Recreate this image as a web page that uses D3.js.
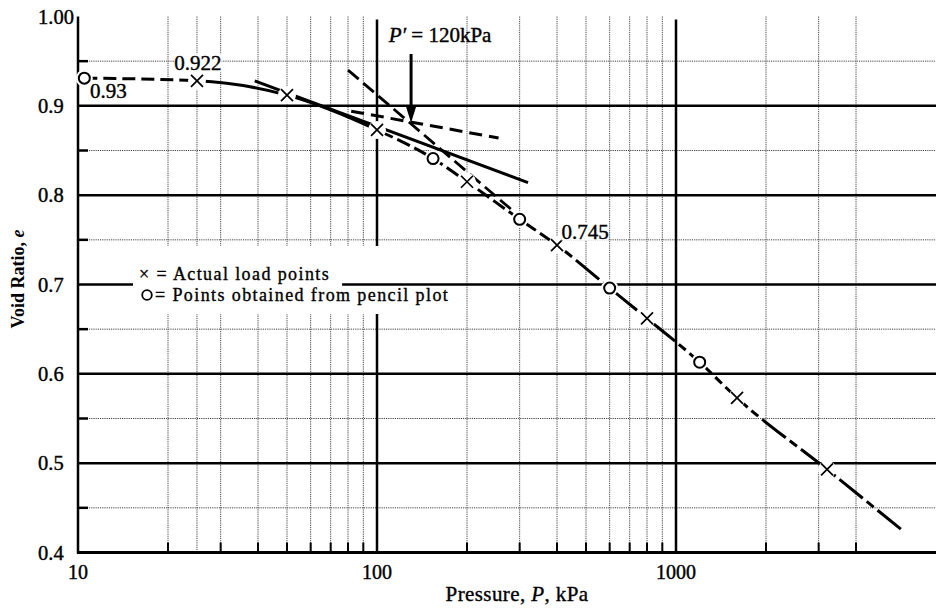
<!DOCTYPE html>
<html><head><meta charset="utf-8">
<script src="https://cdn.jsdelivr.net/npm/d3@7"></script>
<style>
html,body{margin:0;padding:0;background:#fff;}
text{font-family:"Liberation Serif","Times New Roman",serif;fill:#000;}
</style></head>
<body><svg id="c" width="936" height="615"></svg>
<script>
// ---- data ----
const crossP = [25, 50, 100, 200, 400, 800, 1600, 3200];
const crossE = [0.928, 0.912, 0.873, 0.815, 0.744, 0.662, 0.573, 0.493];
const circleP = [10.5, 154, 300, 600, 1200];
const circleE = [0.931, 0.841, 0.773, 0.696, 0.613];
const curveP = [10.5, 25, 50, 100, 154, 200, 300, 400, 600, 800, 1200, 1600, 3200, 5800];
const curveE = [0.931, 0.928, 0.912, 0.873, 0.841, 0.815, 0.773, 0.744, 0.696, 0.662, 0.613, 0.573, 0.493, 0.423];
const segBreaksP = [10.5, 25, 100, 400, 5800];
const tangentP = [39, 320], tangentE = [0.928, 0.814];
const bisectorP = [82, 255], bisectorE = [0.894, 0.864];
const virginP = [80, 300], virginE = [0.940, 0.776];
const arrowP = 130, arrowTopE = 0.958, arrowTipE = 0.881;
const yMajor = [0.5, 0.6, 0.7, 0.8, 0.9];
const yMinor = [0.45, 0.55, 0.65, 0.75, 0.85, 0.95];
const yTickLabels = ["0.4", "0.5", "0.6", "0.7", "0.8", "0.9", "1.00"];
const yTickValues = [0.4, 0.5, 0.6, 0.7, 0.8, 0.9, 1.0];
const xMajor = [100, 1000];
const xMinor = [20, 25, 30, 40, 50, 60, 70, 80, 90, 200, 300, 400, 500, 600, 700, 800, 900, 2000, 3000, 4000];
const xMinorNoTick = [25];
const xTickValues = [10, 100, 1000];
const xTickLabels = ["10", "100", "1000"];
const legendLabels = ["× = Actual load points", "= Points obtained from pencil plot"];
const pointLabels = [
  {t: "0.922", p: 25, e: 0.928, dx: 1, dy: -18},
  {t: "0.93", p: 10.5, e: 0.931, dx: 24, dy: 13},
  {t: "0.745", p: 400, e: 0.744, dx: 28, dy: -14}
];

// ---- layout ----
const svg = d3.select("#c");
const L = 78, R = 936, T = 16.5, B = 552.5;
const x = d3.scaleLog().domain([10, 1000]).range([78, 676]);
const y = d3.scaleLinear().domain([0.4, 1.0]).range([B, T]);

const g = svg.append("g");
// minor vertical grid
g.selectAll(".vmin").data(xMinor).join("line")
  .attr("x1", d => x(d)).attr("x2", d => x(d)).attr("y1", T).attr("y2", B)
  .attr("stroke", "#444").attr("stroke-width", 1).attr("stroke-dasharray", "1.2,1");
// minor horizontal grid
g.selectAll(".hmin").data(yMinor).join("line")
  .attr("x1", L).attr("x2", R).attr("y1", d => y(d)).attr("y2", d => y(d))
  .attr("stroke", "#444").attr("stroke-width", 1).attr("stroke-dasharray", "1.2,1");
// major grid
g.selectAll(".hmaj").data(yMajor).join("line")
  .attr("x1", L).attr("x2", R).attr("y1", d => y(d)).attr("y2", d => y(d))
  .attr("stroke", "#000").attr("stroke-width", 2.5);
g.selectAll(".vmaj").data(xMajor).join("line")
  .attr("x1", d => x(d)).attr("x2", d => x(d)).attr("y1", T + 3).attr("y2", B)
  .attr("stroke", "#000").attr("stroke-width", 2.5);
// ticks
g.selectAll(".xt").data(xMinor.filter(d => !xMinorNoTick.includes(d))).join("line")
  .attr("x1", d => x(d)).attr("x2", d => x(d)).attr("y1", B).attr("y2", B - 10)
  .attr("stroke", "#000").attr("stroke-width", 2);
g.selectAll(".yt").data(yMinor).join("line")
  .attr("x1", L).attr("x2", L + 10).attr("y1", d => y(d)).attr("y2", d => y(d))
  .attr("stroke", "#000").attr("stroke-width", 2.5);
// axes
g.append("line").attr("x1", L).attr("x2", L).attr("y1", T).attr("y2", B + 1).attr("stroke", "#000").attr("stroke-width", 2.5);
g.append("line").attr("x1", L - 1).attr("x2", R).attr("y1", B).attr("y2", B).attr("stroke", "#000").attr("stroke-width", 3);

// tick labels
g.selectAll(".yl").data(yTickValues).join("text")
  .attr("x", 38).attr("y", d => y(d)).attr("dy", "0.35em")
  .attr("font-size", 20.5).attr("stroke", "#000").attr("stroke-width", 0.4)
  .text((d, i) => yTickLabels[i]);
g.selectAll(".xl").data(xTickValues).join("text")
  .attr("x", d => x(d)).attr("y", 579).attr("text-anchor", "middle")
  .attr("font-size", 20).attr("stroke", "#000").attr("stroke-width", 0.4)
  .text((d, i) => xTickLabels[i]);

// axis titles
const yt = g.append("text").attr("transform", "translate(24,279) rotate(-90)")
  .attr("text-anchor", "middle").attr("font-size", 18).attr("font-weight", "bold");
yt.append("tspan").text("Void Ratio, ");
yt.append("tspan").attr("font-style", "italic").text("e");
const xt = g.append("text").attr("x", 517).attr("y", 601).attr("text-anchor", "middle")
  .attr("font-size", 21).attr("letter-spacing", 0.4).attr("stroke", "#000").attr("stroke-width", 0.35);
xt.append("tspan").text("Pressure, ");
xt.append("tspan").attr("font-style", "italic").text("P");
xt.append("tspan").text(", kPa");

// legend
const lg = g.append("g");
lg.append("rect").attr("x", 133).attr("y", 246).attr("width", 325).attr("height", 68).attr("fill", "#fff");
const l1 = lg.append("text").attr("x", 139).attr("y", 280).attr("font-size", 18).attr("letter-spacing", 1.4)
  .attr("stroke", "#000").attr("stroke-width", 0.35).text(legendLabels[0]);
lg.append("text").attr("x", 155).attr("y", 301).attr("font-size", 18).attr("letter-spacing", 1.4)
  .attr("stroke", "#000").attr("stroke-width", 0.35).text(legendLabels[1]);
lg.append("circle").attr("cx", 147).attr("cy", 295).attr("r", 4.8).attr("fill", "none").attr("stroke", "#000").attr("stroke-width", 1.8);
const l1w = l1.node().getComputedTextLength();
lg.append("line").attr("x1", 139 + l1w + 12).attr("x2", 458).attr("y1", y(0.7)).attr("y2", y(0.7))
  .attr("stroke", "#000").attr("stroke-width", 2.5);

// ---- construction lines ----
const pts = curveP.map((p, i) => ({p, e: curveE[i]}));
const line = d3.line().x(d => x(d.p)).y(d => y(d.e)).curve(d3.curveMonotoneX);
const dashes = ["13,6", null, "14,5", "30,5,9,5"];
const defs = svg.append("defs");
for (let i = 0; i < segBreaksP.length - 1; i++) {
  defs.append("clipPath").attr("id", "seg" + i).append("rect")
    .attr("x", x(segBreaksP[i])).attr("y", 0)
    .attr("width", x(segBreaksP[i + 1]) - x(segBreaksP[i]) + (i === segBreaksP.length - 2 ? 5 : 0)).attr("height", 615);
  g.append("path").attr("d", line(pts)).attr("fill", "none").attr("stroke", "#000")
    .attr("stroke-width", 3).attr("clip-path", `url(#seg${i})`)
    .attr("stroke-dasharray", dashes[i]);
}
const straight = (P, E) => d3.line().x(d => x(d[0])).y(d => y(d[1]))(P.map((p, i) => [p, E[i]]));
g.append("path").attr("d", straight(tangentP, tangentE)).attr("stroke", "#000").attr("stroke-width", 3).attr("fill", "none");
g.append("path").attr("d", straight(bisectorP, bisectorE)).attr("stroke", "#000").attr("stroke-width", 3)
  .attr("stroke-dasharray", "13,7").attr("fill", "none");
g.append("path").attr("d", straight(virginP, virginE)).attr("stroke", "#000").attr("stroke-width", 2.8)
  .attr("stroke-dasharray", "14,6").attr("fill", "none");

// markers with white halos
const crosses = crossP.map((p, i) => ({p, e: crossE[i]}));
const circles = circleP.map((p, i) => ({p, e: circleE[i]}));
g.selectAll(".hx").data(crosses).join("circle").attr("cx", d => x(d.p)).attr("cy", d => y(d.e)).attr("r", 9).attr("fill", "#fff");
g.selectAll(".ho").data(circles).join("circle").attr("cx", d => x(d.p)).attr("cy", d => y(d.e)).attr("r", 8.5).attr("fill", "#fff");
const s = 6;
g.selectAll(".mx").data(crosses).join("path")
  .attr("d", d => { const cx = x(d.p), cy = y(d.e); return `M${cx - s},${cy - s}L${cx + s},${cy + s}M${cx - s},${cy + s}L${cx + s},${cy - s}`; })
  .attr("stroke", "#000").attr("stroke-width", 1.7).attr("fill", "none");
g.selectAll(".mo").data(circles).join("circle").attr("cx", d => x(d.p)).attr("cy", d => y(d.e)).attr("r", 5.5)
  .attr("fill", "#fff").attr("stroke", "#000").attr("stroke-width", 2);

// point labels
pointLabels.forEach(d => {
  const t = g.append("text").attr("x", x(d.p) + d.dx).attr("y", y(d.e) + d.dy).attr("dy", "0.35em")
    .attr("text-anchor", "middle").attr("font-size", 21).attr("stroke", "#000").attr("stroke-width", 0.4).text(d.t);
  const bb = t.node().getBBox();
  g.insert("rect", () => t.node()).attr("x", bb.x).attr("y", bb.y + 3).attr("width", bb.width).attr("height", bb.height - 6).attr("fill", "#fff");
});

// arrow + P' label
const ax = x(arrowP), aTop = y(arrowTopE), aTip = y(arrowTipE);
g.append("line").attr("x1", ax).attr("x2", ax).attr("y1", aTop).attr("y2", aTip - 12).attr("stroke", "#000").attr("stroke-width", 3);
g.append("path").attr("d", `M${ax - 5},${aTip - 16}L${ax + 5},${aTip - 16}L${ax},${aTip}Z`).attr("fill", "#000");
const pl = g.append("text").attr("x", ax + 29).attr("y", 42).attr("text-anchor", "middle").attr("font-size", 21)
  .attr("stroke", "#000").attr("stroke-width", 0.4);
pl.append("tspan").attr("font-style", "italic").text("P′");
pl.append("tspan").text(" = 120kPa");
</script></body></html>
